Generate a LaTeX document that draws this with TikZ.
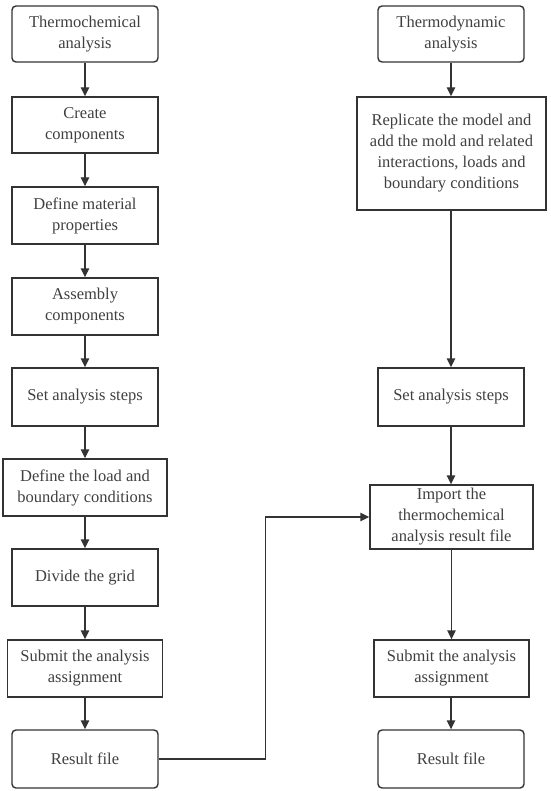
\documentclass[tikz,border=0pt]{standalone}
\usepackage{fontspec}
\setmainfont{Liberation Serif}
\usetikzlibrary{arrows.meta}
\definecolor{ln}{HTML}{333333}
\definecolor{tx}{HTML}{404040}
\tikzset{
  box/.style={draw=ln, line width=1.4pt, align=center, inner sep=0pt, text=tx,
    font=\fontsize{16.5}{21}\selectfont},
  rbox/.style={box, rounded corners=4pt},
  arr/.style={draw=ln, line width=1.4pt, -{Triangle[length=9pt,width=8.5pt]}}
}
\begin{document}
\begin{tikzpicture}[x=1pt,y=-1pt]
\useasboundingbox (0,0) rectangle (550,791);
\fill[white] (0,0) rectangle (550,791);
% left column
\node[rbox, minimum width=146pt, minimum height=56pt] (L1) at (85,34) {Thermochemical\\analysis};
\node[box, minimum width=146pt, minimum height=56pt] (L2) at (85,125) {Create\\components};
\node[box, minimum width=146pt, minimum height=57pt] (L3) at (85,215.5) {Define material\\properties};
\node[box, minimum width=146pt, minimum height=57pt] (L4) at (85,306.5) {Assembly\\components};
\node[box, minimum width=146pt, minimum height=58pt] (L5) at (85,397) {Set analysis steps};
\node[box, minimum width=164pt, minimum height=57pt] (L6) at (85,487.5) {Define the load and\\boundary conditions};
\node[box, minimum width=146pt, minimum height=57pt] (L7) at (85,577.5) {Divide the grid};
\node[box, minimum width=155pt, minimum height=57pt] (L8) at (85,668.5) {Submit the analysis\\assignment};
\node[rbox, minimum width=146pt, minimum height=58pt] (L9) at (85,759) {Result file};
% right column
\node[rbox, minimum width=146pt, minimum height=56pt] (R1) at (451,34) {Thermodynamic\\analysis};
\node[box, minimum width=189pt, minimum height=113pt] (R2) at (451.5,153.5) {Replicate the model and\\add the mold and related\\interactions, loads and\\boundary conditions};
\node[box, minimum width=146pt, minimum height=58pt] (R3) at (451,397) {Set analysis steps};
\node[box, minimum width=163pt, minimum height=64pt] (R4) at (451.5,517) {Import the\\thermochemical\\analysis result file};
\node[box, minimum width=155pt, minimum height=57pt] (R5) at (451.5,668.5) {Submit the analysis\\assignment};
\node[rbox, minimum width=146pt, minimum height=58pt] (R6) at (451,759) {Result file};
% connectors
\foreach \a/\b in {L1/L2,L2/L3,L3/L4,L4/L5,L5/L6,L6/L7,L7/L8,L8/L9}
  \draw[arr] (\a.south) -- (\b.north);
\draw[arr] (R1.south) -- (R1.south |- R2.north);
\draw[arr] (R2.south -| R3.north) -- (R3.north);
\draw[arr] (R3.south) -- (R3.south |- R4.north);
\draw[arr] (R4.south -| R5.north) -- (R5.north);
\draw[arr] (R5.south) -- (R5.south -| R6.north) -- (R6.north);
\draw[arr] (L9.east) -- ++(107,0) |- (R4.west);
\end{tikzpicture}
\end{document}
